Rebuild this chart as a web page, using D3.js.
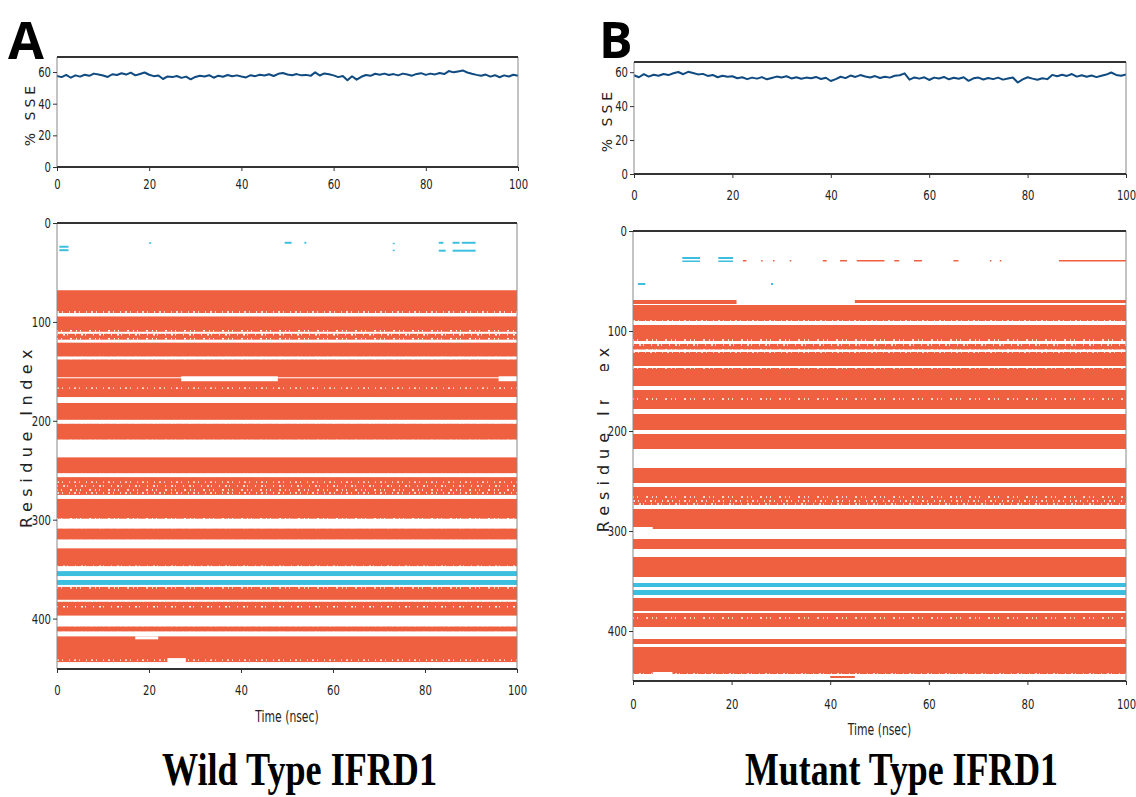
<!DOCTYPE html>
<html>
<head>
<meta charset="utf-8">
<script src="https://cdn.jsdelivr.net/npm/d3@7"></script>
<style>
  body { margin: 0; background: #fff; }
  svg { display: block; }
</style>
</head>
<body>
<div id="my_dataviz"></div>
<script>
// % SSE, one value per nsec (0..100)
var sseA = [57.5,56.8,58.2,56.4,57.9,57.1,58.3,57.6,59.0,58.4,
  57.8,56.9,58.6,58.1,59.2,58.4,59.6,57.9,58.8,59.7,
  58.3,57.4,57.8,55.6,57.2,56.8,57.5,56.3,57.1,55.4,
  56.9,57.6,57.2,58.0,56.4,57.7,57.0,58.1,57.3,57.9,
  57.2,56.6,58.0,57.4,58.3,57.8,58.6,57.5,58.9,59.4,
  58.4,58.0,58.7,57.9,58.2,57.6,59.8,57.8,59.1,58.6,
  57.9,56.8,57.5,54.8,57.3,55.2,57.0,58.1,57.6,58.9,
  58.3,59.0,58.1,58.7,57.9,59.0,58.4,57.7,58.8,59.3,
  58.2,59.0,58.5,59.4,58.7,60.6,59.8,60.4,61.0,59.7,
  58.9,58.2,57.6,58.4,57.1,58.0,56.7,57.9,57.2,58.3,57.6];

var sseB = [58.2,57.0,58.8,57.4,58.5,57.9,58.9,58.3,59.4,60.1,
  58.8,60.2,59.5,58.7,59.0,57.8,58.4,57.0,57.9,57.3,
  57.6,56.4,57.0,55.9,56.8,56.2,57.1,55.8,56.6,57.4,
  56.9,57.6,56.3,57.0,56.1,56.8,56.4,57.2,56.0,56.7,
  54.8,55.9,57.3,56.5,58.0,57.2,58.3,57.5,56.9,57.7,
  56.6,57.3,56.8,57.9,58.2,59.3,55.6,56.9,56.2,57.0,
  55.4,56.8,56.3,57.2,55.8,56.7,56.1,57.0,54.9,56.4,
  56.8,55.7,56.6,55.9,56.8,55.6,56.3,56.9,53.9,55.8,
  57.0,56.2,55.5,56.4,55.9,58.4,57.6,58.5,57.8,58.9,
  57.4,58.2,57.3,58.0,57.1,57.9,58.6,59.8,58.4,57.9,58.6];

var sseTicks = [0, 20, 40, 60];
var timeTicks = [0, 20, 40, 60, 80, 100];
var residueTicks = [0, 100, 200, 300, 400];

// helix (orange) and strand (cyan) residue ranges present over the whole run
var helixA = [[68,91],[94.5,110],[112,118],[121,135],[138,156],[157,176],[182,199],[203,219],
  [237,253],[257,275],[279,299],[309,320],[329,347],[368,381],[383,397],[408,413],[418,444]];
var strandA = [[352,357],[361,366]];
var helixB = [[74,90],[94,110],[113,118.5],[121,135],[137,155],[159,178],[183,199],[203,218],
  [237,252],[256,274],[278,298],[308,318],[326,346],[367,380],[382,396],[408,413],[416,443]];
var strandB = [[352,356],[359,364]];

// partial segments: [residue from, residue to, time from, time to]
var helixPartA = [];
var strandPartA = [[23,25,0.5,2.5],[26.5,28.5,0.5,2.5],[19.5,21,20,20.5],[19,21,49.5,51],[19,21,53.8,54.2],
  [20,21.5,73,73.4],[27,28.5,73,73.4],[19,21,83,84],[19,21,86,87.5],[19,21,88,91],[27,29,83,84.5],[27,29,86,91]];
var helixPartB = [[69,73,0,21],[69,72,45,100],[29,30.5,22.3,23],[29,30.5,26,26.3],[29,30.5,28.4,28.7],
  [29,30.5,31.8,32.1],[29,30.5,38.5,39.3],[29,30.5,42,43.4],[29,30.5,45.4,51],[29,30.5,53,54],
  [29,30.5,57,58.6],[29,30.5,65,66],[29,30.5,72.4,72.7],[29,30.5,74.4,74.7],[29,30.5,86.4,100],[445,447,40,45]];
var strandPartB = [[26,28,10,13.6],[29.5,31,10,13.6],[26,28,17.3,20.3],[29.5,31,17.3,20.3],
  [52,54,1,2.5],[52,54,28,28.4]];

// white gaps inside bands: [residue from, residue to, time from, time to]
var gapA = [[155,160,27,48],[155,160,96,100],[418,421,17,22],[440,444,24,28]];
var gapB = [[296,301,0,4],[441,444,4,8]];

// ragged rows (dashed white lines) by residue
var raggedA = [90,92,109,111,113,117,119,136,137,167,177,181,200,202,220,236,254,256,262,266,270,
  273,278,299,301,308,321,328,347,369,382,388,398,407,414,417,442,445];
var raggedB = [90,92,109,111,114,119,121,136,137,156,158,168,179,182,200,202,219,236,253,255,
  266,270,273,277,299,301,307,319,325,347,366,381,387,397,407,414,415,443];

var orange = "#ef6041";
var cyan = "#3cbfdf";
var navy = "#0f4a80";
var dashes = ["2 3 1 6 1 4", "1 5 2 2 1 7", "1 3 1 8 2 4"];

var svg = d3.select("#my_dataviz").append("svg")
  .attr("width", 1136).attr("height", 797);

function frame(g, w, h) {
  g.append("line").attr("x1", 0).attr("x2", 0).attr("y1", 0).attr("y2", h).attr("stroke", "#888").attr("stroke-width", 1);
  g.append("line").attr("x1", w).attr("x2", w).attr("y1", 0).attr("y2", h).attr("stroke", "#888").attr("stroke-width", 1);
  g.append("line").attr("x1", 0).attr("x2", w).attr("y1", 0).attr("y2", 0).attr("stroke", "#333").attr("stroke-width", 2);
  g.append("line").attr("x1", 0).attr("x2", w).attr("y1", h).attr("y2", h).attr("stroke", "#333").attr("stroke-width", 2);
}

// narrow text like the condensed face of the original
function squeeze(sel, k) {
  sel.each(function() {
    var l = this.getComputedTextLength();
    d3.select(this).attr("textLength", l * k).attr("lengthAdjust", "spacingAndGlyphs");
  });
}

function styleAxis(ax) {
  ax.select(".domain").remove();
  ax.selectAll(".tick line").attr("stroke", "#333");
  ax.selectAll(".tick text").attr("font-size", 14).attr("fill", "#222")
    .attr("font-family", "DejaVu Sans, sans-serif");
  squeeze(ax.selectAll(".tick text"), 0.72);
}

function drawTop(cfg) {
  var w = cfg.right - cfg.left, h = cfg.bottom - cfg.top;
  var g = svg.append("g").attr("transform", `translate(${cfg.left},${cfg.top})`);
  var x = d3.scaleLinear().domain([0, 100]).range([0, w]);
  var y = d3.scaleLinear().domain([0, cfg.ymax]).range([h, 0]);

  g.append("path")
    .datum(cfg.sse)
    .attr("fill", "none")
    .attr("stroke", navy)
    .attr("stroke-width", 2)
    .attr("stroke-linejoin", "round")
    .attr("d", d3.line().x(function(d, i) { return x(i); }).y(function(d) { return y(d); }));

  frame(g, w, h);

  var ax = g.append("g").attr("transform", `translate(0,${h})`)
    .call(d3.axisBottom(x).tickValues(timeTicks).tickSize(4).tickPadding(cfg.xPad));
  styleAxis(ax);
  var ay = g.append("g").call(d3.axisLeft(y).tickValues(sseTicks).tickSize(4).tickPadding(2));
  styleAxis(ay);

  svg.append("text")
    .attr("transform", `translate(${cfg.labelX},${cfg.top + h / 2 + 2}) rotate(-90)`)
    .attr("text-anchor", "middle")
    .attr("font-family", "DejaVu Sans, sans-serif")
    .attr("font-size", 14)
    .attr("letter-spacing", 4)
    .attr("fill", "#222")
    .text("% SSE");
}

function drawBottom(cfg) {
  var w = cfg.right - cfg.left, h = cfg.bottom - cfg.top;
  var g = svg.append("g").attr("transform", `translate(${cfg.left},${cfg.top})`);
  var x = d3.scaleLinear().domain([0, 100]).range([0, w]);
  var y = d3.scaleLinear().domain([0, cfg.rmax]).range([0, h]);

  function bands(data, color) {
    g.append("g").selectAll("rect").data(data).join("rect")
      .attr("x", x(0)).attr("width", x(100) - x(0))
      .attr("y", function(d) { return y(d[0]); })
      .attr("height", function(d) { return y(d[1]) - y(d[0]); })
      .attr("fill", color);
  }
  function parts(data, color) {
    g.append("g").selectAll("rect").data(data).join("rect")
      .attr("x", function(d) { return x(d[2]); })
      .attr("width", function(d) { return Math.max(1, x(d[3]) - x(d[2])); })
      .attr("y", function(d) { return y(d[0]); })
      .attr("height", function(d) { return y(d[1]) - y(d[0]); })
      .attr("fill", color);
  }

  bands(cfg.helix, orange);
  bands(cfg.strand, cyan);
  parts(cfg.helixPart, orange);
  parts(cfg.strandPart, cyan);

  g.append("g").selectAll("line").data(cfg.ragged).join("line")
    .attr("x1", x(0)).attr("x2", x(100))
    .attr("y1", function(d) { return y(d); })
    .attr("y2", function(d) { return y(d); })
    .attr("stroke", "#fff")
    .attr("stroke-width", 1.4)
    .attr("stroke-dasharray", function(d, i) { return dashes[i % 3]; });

  parts(cfg.gap, "#fff");

  frame(g, w, h);

  var ax = g.append("g").attr("transform", `translate(0,${h})`)
    .call(d3.axisBottom(x).tickValues(timeTicks).tickSize(4).tickPadding(cfg.xPad));
  styleAxis(ax);
  var ay = g.append("g").call(d3.axisLeft(y).tickValues(residueTicks).tickSize(4).tickPadding(2));
  styleAxis(ay);

  var t = svg.append("text")
    .attr("x", cfg.left + w / 2).attr("y", cfg.timeY)
    .attr("text-anchor", "middle")
    .attr("font-family", "DejaVu Sans, sans-serif")
    .attr("font-size", 15)
    .attr("fill", "#222")
    .text("Time (nsec)");
  squeeze(t, 0.72);

  var lg = svg.append("g").attr("transform", `translate(${cfg.labelX},${cfg.labelY}) rotate(-90)`);
  var lab = lg.append("text")
    .attr("text-anchor", "middle")
    .attr("font-family", "DejaVu Sans, sans-serif")
    .attr("font-size", 16)
    .attr("letter-spacing", cfg.spacing)
    .attr("fill", "#222")
    .text("Residue Index");
  if (cfg.hide) {
    // part of the label is covered in the source figure
    var a = lab.node().getStartPositionOfChar(cfg.hide[0]).x + 5;
    var b = lab.node().getEndPositionOfChar(cfg.hide[1]).x + 2;
    lg.append("rect").attr("x", a).attr("y", -18).attr("width", b - a).attr("height", 24).attr("fill", "#fff");
  }
}

drawTop({left: 57, right: 518, top: 57, bottom: 167, ymax: 69.5, sse: sseA, labelX: 35, xPad: 8});
drawTop({left: 634, right: 1126, top: 62, bottom: 174, ymax: 66, sse: sseB, labelX: 612, xPad: 12});

drawBottom({left: 57, right: 517, top: 223, bottom: 669, rmax: 451, helix: helixA, strand: strandA,
  helixPart: helixPartA, strandPart: strandPartA, gap: gapA, ragged: raggedA,
  timeY: 722, labelX: 32, labelY: 436, xPad: 12, spacing: 5.5});
drawBottom({left: 633, right: 1126, top: 231, bottom: 681, rmax: 450, helix: helixB, strand: strandB,
  helixPart: helixPartB, strandPart: strandPartB, gap: gapB, ragged: raggedB,
  timeY: 735, labelX: 609, labelY: 437, xPad: 14, spacing: 6, hide: [9, 10]});

// panel letters and captions
svg.append("text").attr("x", 8).attr("y", 59)
  .attr("font-family", "Open Sans, DejaVu Sans, sans-serif").attr("font-weight", 700)
  .attr("font-size", 52).attr("fill", "#000").text("A");
svg.append("text").attr("x", 599).attr("y", 58)
  .attr("font-family", "Open Sans, DejaVu Sans, sans-serif").attr("font-weight", 700)
  .attr("font-size", 50).attr("fill", "#000").text("B");

svg.append("text").attr("x", 162).attr("y", 785)
  .attr("font-family", "Liberation Serif, Times New Roman, serif").attr("font-weight", 700)
  .attr("font-size", 46).attr("textLength", 275).attr("lengthAdjust", "spacingAndGlyphs")
  .attr("fill", "#000").text("Wild Type IFRD1");
svg.append("text").attr("x", 745).attr("y", 785)
  .attr("font-family", "Liberation Serif, Times New Roman, serif").attr("font-weight", 700)
  .attr("font-size", 46).attr("textLength", 313).attr("lengthAdjust", "spacingAndGlyphs")
  .attr("fill", "#000").text("Mutant Type IFRD1");
</script>
</body>
</html>
